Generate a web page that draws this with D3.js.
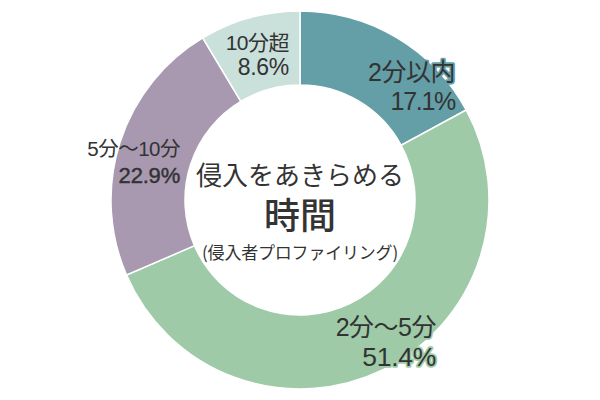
<!DOCTYPE html>
<html><head><meta charset="utf-8">
<script src="https://cdn.jsdelivr.net/npm/d3@7"></script>
<style>
html,body{margin:0;padding:0;background:#fff;}
svg{display:block;}
text{font-family:"Noto Sans CJK JP","Noto Sans",sans-serif;fill:#333;}
text.lbl{font-family:"Liberation Sans","Noto Sans CJK JP",sans-serif;}
</style></head>
<body>
<script>
const categories = ["2分以内", "2分〜5分", "5分〜10分", "10分超"];
const values = [17.1, 51.4, 22.9, 8.6];
const valueLabels = ["17.1%", "51.4%", "22.9%", "8.6%"];
const colors = ["#649ea7", "#9fcaa8", "#a899b0", "#c9e0db"];
const titleLines = ["侵入をあきらめる", "時間", "(侵入者プロファイリング)"];

const W = 600, H = 400, cx = 300, cy = 200, rOuter = 189, rInner = 115;
// label layout: anchor x, baselines, font sizes, spacing, halo, emphasis
const labelLayout = [
  {x: 455, y1: 81, y2: 110, s1: 25, s2: 25, ls2: -1.3, halo: true, heavy: false},
  {x: 436, y1: 336, y2: 365.5, s1: 25, s2: 26.5, ls2: -0.3, halo: true, heavy: false},
  {x: 180, y1: 156, y2: 183, s1: 20.5, s2: 22, ls2: -0.2, halo: false, heavy: true},
  {x: 289, y1: 49.5, y2: 75, s1: 21, s2: 23, ls2: -0.3, halo: false, heavy: false}
];

const svg = d3.select("body").append("svg").attr("width", W).attr("height", H);
const g = svg.append("g").attr("transform", `translate(${cx},${cy})`);

const pie = d3.pie().sort(null).value(d => d)(values);
const arc = d3.arc().innerRadius(rInner).outerRadius(rOuter);

g.selectAll("path.slice").data(pie).enter().append("path")
  .attr("class", "slice")
  .attr("d", arc)
  .attr("fill", (d, i) => colors[i])
  .attr("stroke", "#fff")
  .attr("stroke-width", 1.5);

const lab = svg.append("g");
pie.forEach((d, i) => {
  const L = labelLayout[i];
  const t = lab.append("text").attr("class", "lbl").attr("text-anchor", "end");
  t.append("tspan").attr("x", L.x).attr("y", L.y1).attr("font-size", L.s1)
    .attr("letter-spacing", "-0.5px").text(categories[i]);
  const v = t.append("tspan").attr("x", L.x).attr("y", L.y2).attr("font-size", L.s2)
    .attr("letter-spacing", L.ls2 + "px").text(valueLabels[i]);
  if (L.halo) {
    t.attr("stroke", colors[i]).attr("stroke-width", 3.5)
      .attr("stroke-linejoin", "round").attr("paint-order", "stroke");
  }
  if (L.heavy) {
    v.attr("stroke", "#333").attr("stroke-width", 0.45);
  }
});

const ct = svg.append("text").attr("text-anchor", "middle");
ct.append("tspan").attr("x", cx).attr("y", 185).attr("font-size", 26).text(titleLines[0]);
ct.append("tspan").attr("x", cx).attr("y", 229).attr("font-size", 36).attr("font-weight", 500).text(titleLines[1]);
ct.append("tspan").attr("x", cx).attr("y", 259).attr("font-size", 17).attr("letter-spacing", "-0.2px").text(titleLines[2]);
</script>
</body></html>
